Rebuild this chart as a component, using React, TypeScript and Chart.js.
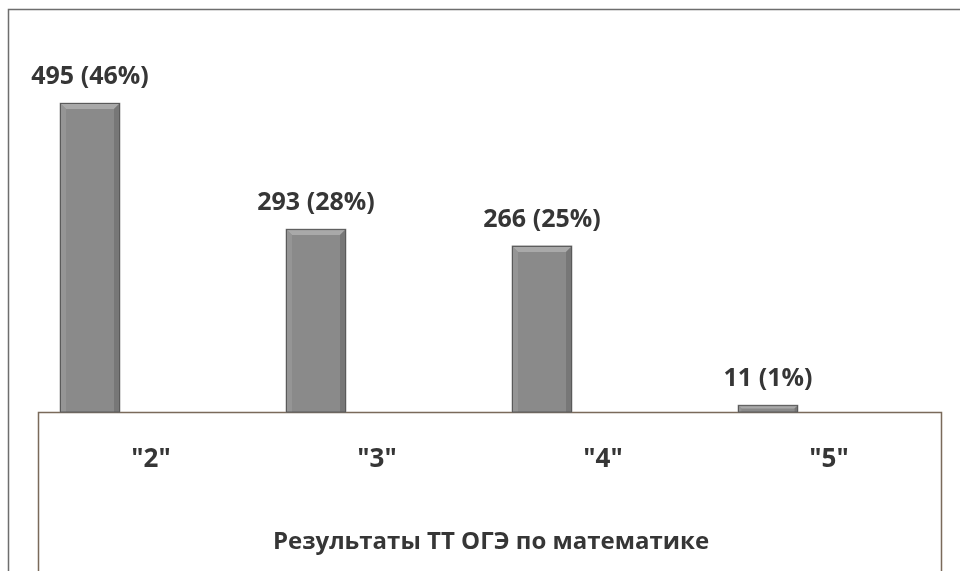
import React, { useEffect, useRef } from "react";
import { Chart, registerables } from "chart.js";

Chart.register(...registerables);

const categories = ['"2"', '"3"', '"4"', '"5"'];
const counts = [495, 293, 266, 11];
const percents = [46, 28, 25, 1];
const chartTitle = "Результаты ТТ ОГЭ по математике";

const FONT = '"Open Sans", "DejaVu Sans", sans-serif';
const TEXT = "#363636";

const framePlugin = {
  id: "frame",
  beforeDraw(chart: any) {
    const ctx = chart.ctx;
    const { chartArea } = chart;
    ctx.save();
    ctx.fillStyle = "#ffffff";
    ctx.fillRect(0, 0, chart.width, chart.height);
    // outer border
    ctx.strokeStyle = "#6e6e6e";
    ctx.lineWidth = 1.5;
    ctx.beginPath();
    ctx.moveTo(8.5, 571);
    ctx.lineTo(8.5, 9.5);
    ctx.lineTo(960, 9.5);
    ctx.stroke();
    // floor box
    ctx.strokeStyle = "#7a6a5a";
    ctx.lineWidth = 1.5;
    ctx.beginPath();
    ctx.moveTo(38.5, 571);
    ctx.lineTo(38.5, chartArea.bottom + 0.5);
    ctx.lineTo(941.5, chartArea.bottom + 0.5);
    ctx.lineTo(941.5, 571);
    ctx.stroke();
    ctx.restore();
  },
  afterDatasetsDraw(chart: any) {
    const ctx = chart.ctx;
    const meta = chart.getDatasetMeta(0);
    const xScale = chart.scales.x;
    ctx.save();
    meta.data.forEach((bar: any, i: number) => {
      const { x, y, base, width } = bar.getProps(["x", "y", "base", "width"], true);
      const l = x - width / 2;
      const r = x + width / 2;
      const h = base - y;
      const d = Math.min(6, h / 2);
      // top bevel
      ctx.fillStyle = "#a9a9a9";
      ctx.beginPath();
      ctx.moveTo(l, y);
      ctx.lineTo(r, y);
      ctx.lineTo(r - d, y + d);
      ctx.lineTo(l + d, y + d);
      ctx.closePath();
      ctx.fill();
      // left bevel
      ctx.fillStyle = "#959595";
      ctx.beginPath();
      ctx.moveTo(l, y);
      ctx.lineTo(l + d, y + d);
      ctx.lineTo(l + d, base);
      ctx.lineTo(l, base);
      ctx.closePath();
      ctx.fill();
      // right bevel
      ctx.fillStyle = "#777777";
      ctx.beginPath();
      ctx.moveTo(r, y);
      ctx.lineTo(r - d, y + d);
      ctx.lineTo(r - d, base);
      ctx.lineTo(r, base);
      ctx.closePath();
      ctx.fill();
      ctx.strokeStyle = "#5a5a5a";
      ctx.lineWidth = 1;
      ctx.strokeRect(l + 0.5, y + 0.5, width - 1, h - 0.5);
      // value label
      ctx.fillStyle = TEXT;
      ctx.font = `bold 25px ${FONT}`;
      ctx.textAlign = "center";
      ctx.textBaseline = "alphabetic";
      ctx.fillText(`${counts[i]} (${percents[i]}%)`, x, y - 19);
      // category label (3D floor offset)
      ctx.font = `bold 26px ${FONT}`;
      ctx.fillText(String(xScale.getLabelForValue(i)), xScale.getPixelForValue(i) + 61, 467);
    });
    // title
    ctx.font = `bold 24px ${FONT}`;
    ctx.textAlign = "center";
    ctx.fillText(chartTitle, 491, 549);
    ctx.restore();
  },
};

export default function App() {
  const ref = useRef<HTMLCanvasElement | null>(null);
  useEffect(() => {
    if (!ref.current) return;
    const chart = new Chart(ref.current, {
      type: "bar",
      data: {
        labels: categories,
        datasets: [
          {
            data: counts,
            backgroundColor: "#8a8a8a",
            borderWidth: 0,
            barThickness: 60,
            clip: false as any,
          },
        ],
      },
      options: {
        animation: false,
        responsive: true,
        maintainAspectRatio: false,
        layout: { padding: { left: 90, right: 192, top: 103, bottom: 171 } },
        plugins: { legend: { display: false }, tooltip: { enabled: false }, title: { display: false } },
        scales: {
          x: { type: "category", offset: false, display: false },
          y: { min: 0, max: 495, display: false },
        },
      },
      plugins: [framePlugin],
    });
    return () => chart.destroy();
  }, []);
  return (
    <div style={{ position: "absolute", left: 0, top: 0, width: 960, height: 583 }}>
      <canvas ref={ref} />
    </div>
  );
}
